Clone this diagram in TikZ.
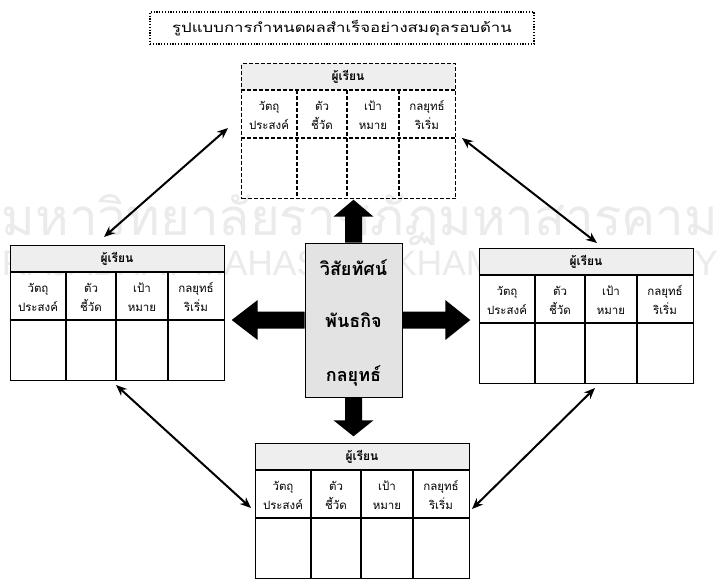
\documentclass[tikz,border=0pt]{standalone}
\usepackage{fontspec}
\setmainfont[Script=Thai]{Loma}
\newfontfamily\latinsans{Liberation Sans}
\usetikzlibrary{calc,arrows.meta}
\tikzset{
  tblbox/.style={draw=black, line width=1.1pt, minimum width=214pt, minimum height=135pt, inner sep=0pt, anchor=north west},
  solidgrid/.style={draw=black, line width=1.1pt},
  dashgrid/.style={draw=black, line width=1.1pt, dash pattern=on 4pt off 2pt},
  hdrfill/.style={fill=gray!13},
  hdrtext/.style={font=\fontsize{12}{14}\selectfont\bfseries, inner sep=0pt},
  celltext/.style={font=\fontsize{11.5}{19}\selectfont, align=center, inner sep=0pt},
  titlebox/.style={draw=black, line width=1.4pt, dash pattern=on 1.2pt off 1.6pt, minimum width=384pt, minimum height=32pt, inner sep=0pt, font=\fontsize{12}{14}\selectfont},
  corebox/.style={draw=black, line width=0.6pt, fill=gray!22, minimum width=97pt, minimum height=154pt, inner sep=0pt},
  coretext/.style={font=\fontsize{18}{20}\selectfont\bfseries, inner sep=0pt},
  blockarrow/.style={fill=black, draw=none},
  dblarrow/.style={draw=black, line width=2pt, {Stealth[length=11pt,width=9pt]}-{Stealth[length=11pt,width=9pt]}},
  wmark/.style={text=gray!16, inner sep=0pt}
}
% #1 name, #2 x, #3 y, #4 grid style
\newcommand\learnertbl[4]{%
  \fill[hdrfill] (#2,#3) rectangle ++(214,27);
  \node[tblbox,#4] (#1) at (#2,#3) {};
  \draw[#4] ([shift={(0,27)}]#1.north west) -- ([shift={(214,27)}]#1.north west);
  \draw[#4] ([shift={(0,75)}]#1.north west) -- ([shift={(214,75)}]#1.north west);
  \draw[#4] ([shift={(56,27)}]#1.north west) -- ([shift={(56,135)}]#1.north west);
  \draw[#4] ([shift={(106,27)}]#1.north west) -- ([shift={(106,135)}]#1.north west);
  \draw[#4] ([shift={(158,27)}]#1.north west) -- ([shift={(158,135)}]#1.north west);
  \node[hdrtext] (#1-h) at ([shift={(107,14)}]#1.north west) {ผู้เรียน};
  \node[celltext] (#1-c1) at ([shift={(28,52)}]#1.north west) {วัตถุ\\ประสงค์};
  \node[celltext] (#1-c2) at ([shift={(81,52)}]#1.north west) {ตัว\\ชี้วัด};
  \node[celltext] (#1-c3) at ([shift={(132,52)}]#1.north west) {เป้า\\หมาย};
  \node[celltext] (#1-c4) at ([shift={(186,52)}]#1.north west) {กลยุทธ์\\ริเริ่ม};
}
\begin{document}
\begin{tikzpicture}[x=1pt,y=-1pt]
\useasboundingbox (0,0) rectangle (720,579);
\fill[white] (0,0) rectangle (720,579);
% watermark
\node[wmark] (wm1) at (360,220) {\resizebox{716pt}{!}{มหาวิทยาลัยราชภัฏมหาสารคาม}};
\node[wmark] (wm2) at (360,263) {\resizebox{716pt}{!}{\latinsans RAJABHAT MAHASARAKHAM UNIVERSITY}};
% title
\node[titlebox] (title) at (342,28) {\scalebox{1.4}[1.1]{รูปแบบการกำหนดผลสำเร็จอย่างสมดุลรอบด้าน}};
% tables
\learnertbl{ttop}{241}{63}{dashgrid}
\learnertbl{tleft}{10}{245}{solidgrid}
\learnertbl{tright}{479}{248}{solidgrid}
\learnertbl{tbot}{255}{443}{solidgrid}
% core
\node[corebox] (core) at (353.5,320) {};
\node[coretext] (core-v) at ([yshift=-25]core.north) {วิสัยทัศน์};
\node[coretext] (core-m) at (core.center) {พันธกิจ};
\node[coretext] (core-s) at ([yshift=21]core.south) {กลยุทธ์};
% block arrows
\fill[blockarrow] ([xshift=-8.5]core.north) -- ++(0,-26) -- ++(-11.5,0) -- ++(20,-17) -- ++(20,17) -- ++(-11.5,0) -- ++(0,26) -- cycle;
\fill[blockarrow] ([xshift=-8.5]core.south) -- ++(0,23) -- ++(-11.5,0) -- ++(20,16) -- ++(20,-16) -- ++(-11.5,0) -- ++(0,-23) -- cycle;
\fill[blockarrow] ([yshift=8.5]core.west) -- ++(-47,0) -- ++(0,-11.5) -- ++(-26,20) -- ++(26,20) -- ++(0,-11.5) -- ++(47,0) -- cycle;
\fill[blockarrow] ([yshift=8.5]core.east) -- ++(43,0) -- ++(0,-11.5) -- ++(25,20) -- ++(-25,20) -- ++(0,-11.5) -- ++(-43,0) -- cycle;
% double arrows
\coordinate (a1) at (228,128); \coordinate (a2) at (104,237);
\coordinate (b1) at (462,138); \coordinate (b2) at (597,243);
\coordinate (c1) at (116,385); \coordinate (c2) at (251,508);
\coordinate (d1) at (472,509); \coordinate (d2) at (595,388);
\draw[dblarrow] (a1) -- (a2);
\draw[dblarrow] (b1) -- (b2);
\draw[dblarrow] (c1) -- (c2);
\draw[dblarrow] (d1) -- (d2);
\end{tikzpicture}
\end{document}
